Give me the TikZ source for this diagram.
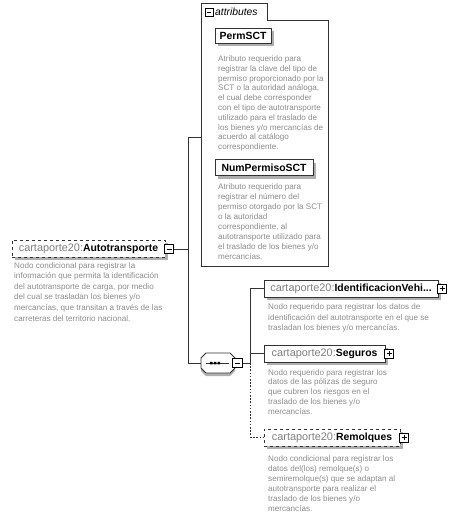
\documentclass[tikz,border=0pt]{standalone}
\usepackage{fontspec}
\setmainfont{Liberation Sans}
\usetikzlibrary{shadows}
\definecolor{desc}{RGB}{140,140,140}
\definecolor{pref}{RGB}{128,128,128}
\definecolor{ln}{RGB}{50,50,50}
\definecolor{shd}{RGB}{175,175,175}
\newcommand{\pfx}{{\color{pref}\fontsize{10.9}{12}\selectfont cartaporte20:}}
\newcommand{\nmf}{\fontsize{10.4}{12}\selectfont\bfseries}
\begin{document}
\begin{tikzpicture}[x=1pt,y=-1pt,
  elem/.style={draw=ln, fill=white, line width=0.8pt, inner sep=0pt, minimum height=17pt,
    drop shadow={shadow xshift=3pt, shadow yshift=-3pt, fill=shd, opacity=1}},
  ico/.style={draw=black, fill=white, line width=0.8pt, minimum size=9pt, inner sep=0pt},
  minusico/.style={ico, path picture={\draw[line width=0.8pt]
      ([xshift=2pt]path picture bounding box.west) -- ([xshift=-2pt]path picture bounding box.east);}},
  plusico/.style={ico, path picture={\draw[line width=0.8pt]
      ([xshift=2pt]path picture bounding box.west) -- ([xshift=-2pt]path picture bounding box.east)
      ([yshift=-2pt]path picture bounding box.north) -- ([yshift=2pt]path picture bounding box.south);}},
  dsc/.style={anchor=north west, inner sep=0pt, align=left, text=desc},
  conn/.style={draw=ln, line width=0.8pt},
  opt/.style={conn, dash pattern=on 1.6pt off 1.6pt},
]
\useasboundingbox (0,0) rectangle (457,519);

% ---------- attributes container ----------
\draw[conn, fill=white] (201,266) -- (201,3) -- (267,3) -- (267,20) -- (328,20) -- (328,266) -- cycle;
\coordinate (attrL) at (201,137);
\node[minusico, minimum size=8pt] (attrI) at (209,12) {};
\node[anchor=west, inner sep=0pt, font=\fontsize{10.3}{12}\selectfont\itshape] (attrT) at (215,12) {attributes};

\node[elem, minimum width=56pt, minimum height=15pt] (perm) at (243,36) {\nmf PermSCT};
\node[dsc, font=\fontsize{8.1}{9.8}\selectfont] (permD) at (218,55.5) {Atributo requerido para\\registrar la clave del tipo de\\permiso proporcionado por la\\SCT o la autoridad análoga,\\el cual debe corresponder\\con el tipo de autotransporte\\utilizado para el traslado de\\los bienes y/o mercancías de\\acuerdo al catálogo\\correspondiente.};

\node[elem, minimum width=98pt, minimum height=16pt] (num) at (264,167.5) {\nmf NumPermisoSCT};
\node[dsc, font=\fontsize{8.1}{10}\selectfont] (numD) at (218,183) {Atributo requerido para\\registrar el número del\\permiso otorgado por la SCT\\o la autoridad\\correspondiente, al\\autotransporte utilizado para\\el traslado de los bienes y/o\\mercancías.};

% ---------- main element ----------
\node[elem, dashed, minimum width=153pt] (auto) at (88.5,248.5) {\pfx\nmf Autotransporte};
\node[minusico] (autoI) at (169,249) {};
\node[dsc, font=\fontsize{8.1}{10.6}\selectfont] (autoD) at (14,262) {Nodo condicional para registrar la\\información que permita la identificación\\del autotransporte de carga, por medio\\del cual se trasladan los bienes y/o\\mercancías, que transitan a través de las\\carreteras del territorio nacional.};

\coordinate (v1top) at (188,137);
\coordinate (v1bot) at (188,363);
\draw[conn] (autoI.east) -- (autoI.east -| v1top);
\draw[conn] (v1top) -- (v1bot);
\draw[conn] (v1top) -- (attrL);

% ---------- sequence compositor ----------
\fill[shd] (206,356) -- (230,356) -- (235,361) -- (235,371) -- (230,376) -- (206,376) -- (201,371) -- (201,361) -- cycle;
\draw[conn, fill=white] (206,353) -- (230,353) -- (235,358) -- (235,368) -- (230,373) -- (206,373) -- (201,368) -- (201,358) -- cycle;
\node[inner sep=0pt, minimum width=34pt, minimum height=20pt] (seq) at (218,363) {};
\draw[conn] (206,363) -- (229,363);
\fill[black] (210,361.8) rectangle (212.6,364.4) (213.8,361.8) rectangle (216.4,364.4) (217.6,361.8) rectangle (220.2,364.4);
\node[minusico, minimum size=9.5pt] (seqI) at (237.5,363) {};
\draw[conn] (v1bot) -- (seq.west);

\coordinate (v2top) at (250,288.5);
\coordinate (v2mid) at (250,363);
\coordinate (v2bot) at (250,437.5);
\draw[conn] (seqI.east) -- (v2mid);
\draw[conn] (v2top) -- (v2mid);
\draw[opt] (v2mid) -- (v2bot);

% ---------- children ----------
\node[elem, minimum width=174pt] (idv) at (351,288.5) {\pfx\nmf IdentificacionVehi...};
\node[plusico] (idvI) at (442,288.5) {};
\node[dsc, font=\fontsize{8.1}{10.6}\selectfont] (idvD) at (268,303.5) {Nodo requerido para registrar los datos de\\identificación del autotransporte en el que se\\trasladan los bienes y/o mercancías.};
\draw[conn] (v2top) -- (idv.west);

\node[elem, minimum width=121pt] (seg) at (324.5,353.5) {\pfx\nmf Seguros};
\node[plusico] (segI) at (389,353.5) {};
\node[dsc, font=\fontsize{8.1}{9.8}\selectfont] (segD) at (268,369) {Nodo requerido para registrar los\\datos de las pólizas de seguro\\que cubren los riesgos en el\\traslado de los bienes y/o\\mercancías.};
\draw[conn] (seg.west -| v2top) -- (seg.west);

\node[elem, dashed, minimum width=136pt] (rem) at (332,437.5) {\pfx\nmf Remolques};
\node[plusico] (remI) at (404,437.5) {};
\node[dsc, font=\fontsize{8.1}{10}\selectfont] (remD) at (268,455) {Nodo condicional para registrar los\\datos del(los) remolque(s) o\\semiremolque(s) que se adaptan al\\autotransporte para realizar el\\traslado de los bienes y/o\\mercancías.};
\draw[opt] (v2bot) -- (rem.west);
\end{tikzpicture}
\end{document}
